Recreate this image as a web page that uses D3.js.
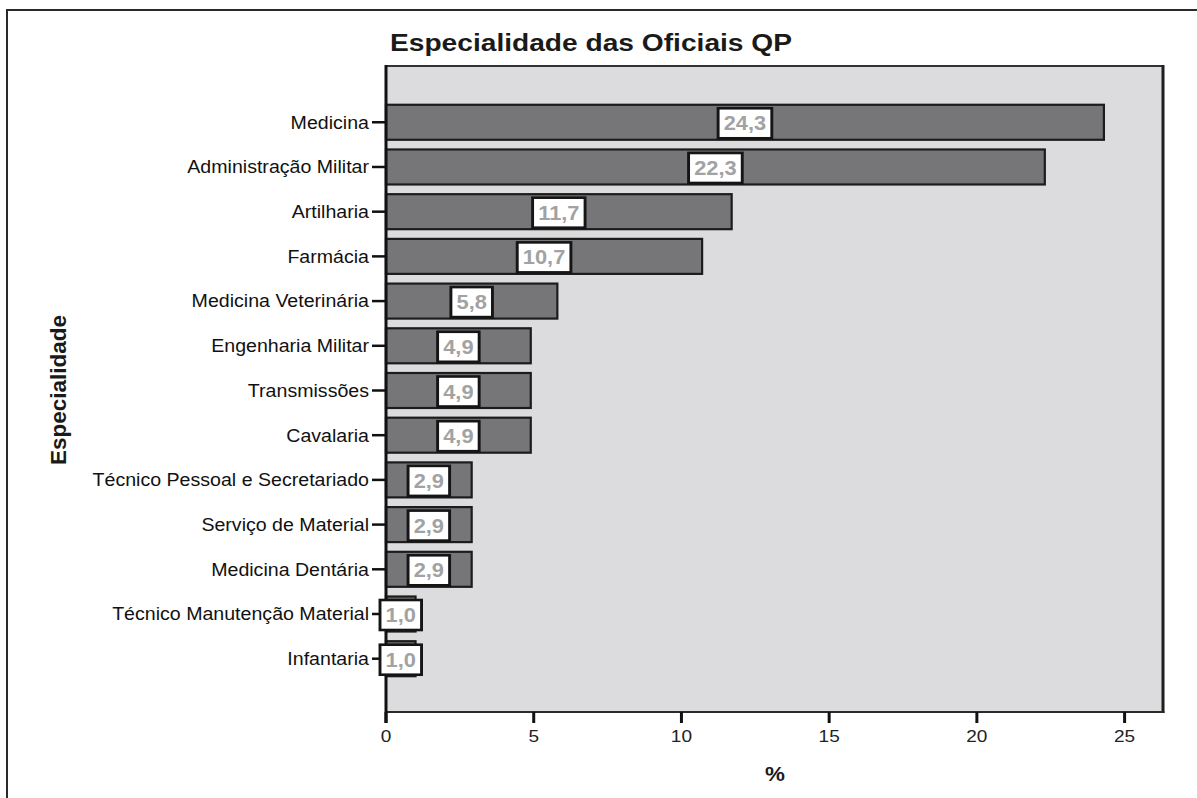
<!DOCTYPE html>
<html><head><meta charset="utf-8">
<script src="https://cdn.jsdelivr.net/npm/d3@7"></script>
<style>
body{margin:0;background:#fff}
svg{display:block}
text{font-family:"Liberation Sans",Arial,Helvetica,sans-serif}
</style>
</head><body>
<svg id="c" width="1197" height="798"></svg>
<script>
const categories = ["Medicina","Administração Militar","Artilharia","Farmácia","Medicina Veterinária","Engenharia Militar","Transmissões","Cavalaria","Técnico Pessoal e Secretariado","Serviço de Material","Medicina Dentária","Técnico Manutenção Material","Infantaria"];
const values = [24.3,22.3,11.7,10.7,5.8,4.9,4.9,4.9,2.9,2.9,2.9,1.0,1.0];
const valueLabels = ["24,3","22,3","11,7","10,7","5,8","4,9","4,9","4,9","2,9","2,9","2,9","1,0","1,0"];
const xTicks = [0,5,10,15,20,25];
const xDomain = [0,26.3];
const chartTitle = "Especialidade das Oficiais QP";
const xTitle = "%";
const yTitle = "Especialidade";

const L = 386, R = 1163, T = 66, B = 712;
const SX = 1.12;
const svg = d3.select("#c");

// outer frame
svg.append("path").attr("d","M7,798 V10 H1197").attr("fill","none").attr("stroke","#2a2a2a").attr("stroke-width",2);

const x = d3.scaleLinear().domain(xDomain).range([L,R]);
const y = d3.scaleBand().domain(categories).range([T,B]).paddingInner(0.217).paddingOuter(0.834).align(0.52);

// plot background
svg.append("rect").attr("x",L).attr("y",T).attr("width",R-L).attr("height",B-T).attr("fill","#dcdcde");
svg.append("line").attr("x1",L).attr("x2",R).attr("y1",T).attr("y2",T).attr("stroke","#333").attr("stroke-width",2);
svg.append("line").attr("x1",R).attr("x2",R).attr("y1",T-1).attr("y2",B+1).attr("stroke","#1e1e1e").attr("stroke-width",3);
svg.append("line").attr("x1",L).attr("x2",R+1.5).attr("y1",B).attr("y2",B).attr("stroke","#2a2a2a").attr("stroke-width",2);

// bars
const data = categories.map((c,i)=>({c, v:values[i], lab:valueLabels[i]}));
svg.append("g").selectAll("rect").data(data).join("rect")
  .attr("x",x(0)).attr("y",d=>y(d.c)).attr("width",d=>x(d.v)-x(0)).attr("height",y.bandwidth())
  .attr("fill","#767678").attr("stroke","#1c1c1c").attr("stroke-width",2.2);

// left axis line
svg.append("line").attr("x1",L).attr("x2",L).attr("y1",T-1).attr("y2",B+11).attr("stroke","#111").attr("stroke-width",3);

// y ticks and labels
const yt = svg.append("g");
data.forEach(d=>{
  const cy = y(d.c)+y.bandwidth()/2;
  yt.append("line").attr("x1",372).attr("x2",L).attr("y1",cy).attr("y2",cy).attr("stroke","#111").attr("stroke-width",2.5);
  yt.append("text").attr("transform",`translate(369,${cy}) scale(${SX},1)`)
    .attr("dy","0.36em").attr("text-anchor","end").attr("font-size",17.5).attr("fill","#111").text(d.c);
});

// x ticks
const xt = svg.append("g");
xTicks.forEach(t=>{
  xt.append("line").attr("x1",x(t)).attr("x2",x(t)).attr("y1",B).attr("y2",B+11).attr("stroke","#111").attr("stroke-width",3);
  xt.append("text").attr("transform",`translate(${x(t)},742) scale(${SX},1)`)
    .attr("text-anchor","middle").attr("font-size",17).attr("fill","#222").text(t);
});

// value labels
const lg = svg.append("g");
data.forEach(d=>{
  const cx = x(d.v/2), cy = y(d.c)+y.bandwidth()/2+1;
  const g = lg.append("g").attr("transform",`translate(${cx},${cy}) scale(${SX},1)`);
  const r = g.append("rect");
  const t = g.append("text").attr("text-anchor","middle").attr("dy","0.36em")
    .attr("font-size",19.5).attr("font-weight","bold").attr("fill","#a2a2a2").text(d.lab);
  const w = t.node().getComputedTextLength() + 10;
  r.attr("x",-w/2).attr("y",-15).attr("width",w).attr("height",30)
   .attr("fill","#fff").attr("stroke","#151515").attr("stroke-width",2.6);
});

// titles
svg.append("text").attr("x",390).attr("y",51).attr("font-size",23.5).attr("font-weight","bold")
  .attr("fill","#1a1a1a").attr("textLength",402).attr("lengthAdjust","spacingAndGlyphs").text(chartTitle);
svg.append("text").attr("transform","translate(66,390) rotate(-90)").attr("text-anchor","middle")
  .attr("font-size",22).attr("font-weight","bold").attr("fill","#1a1a1a")
  .attr("textLength",150).attr("lengthAdjust","spacingAndGlyphs").text(yTitle);
svg.append("text").attr("transform",`translate(775,781) scale(${SX},1)`).attr("text-anchor","middle")
  .attr("font-size",20).attr("font-weight","bold").attr("fill","#1a1a1a").text(xTitle);
</script>
</body></html>
